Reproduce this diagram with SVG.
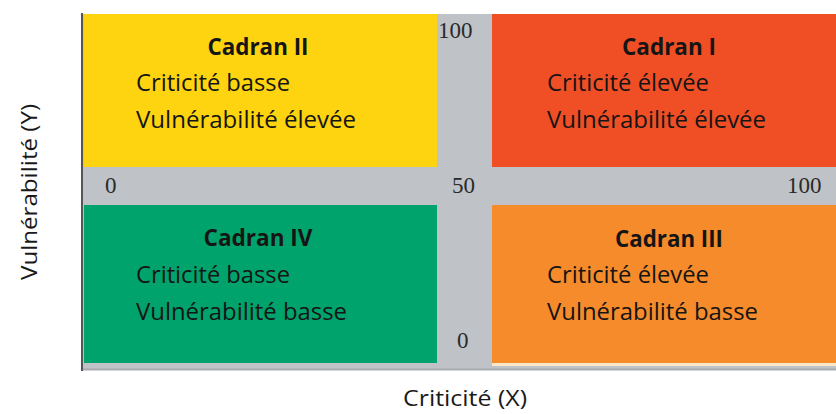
<svg xmlns="http://www.w3.org/2000/svg" width="836" height="414" viewBox="0 0 836 414">
<style>
.t{font-family:"Open Sans","Liberation Sans",sans-serif;font-size:23px;font-weight:500;fill:#151515}
.h{font-family:"Open Sans","Liberation Sans",sans-serif;font-size:23px;font-weight:bold;fill:#151515;text-anchor:middle}
.n{font-family:"Liberation Serif","Times New Roman",serif;font-size:23px;fill:#2a2a2a}
.ax{font-family:"Open Sans","Liberation Sans",sans-serif;font-size:22px;font-weight:500;fill:#1a1a1a}
</style>
<rect x="0" y="0" width="836" height="414" fill="#ffffff"/>
<g id="grid">
<rect x="83" y="14" width="753" height="355" fill="#bfc2c6"/>
<line x1="83" y1="369.5" x2="836" y2="369.5" stroke="#a9abae" stroke-width="2"/>
<line x1="82" y1="13" x2="82" y2="371" stroke="#555555" stroke-width="2"/>
</g>
<g id="cadran2">
<rect x="84" y="14" width="353" height="153" fill="#fdd40f"/>
<text class="h" x="258" y="55" textLength="101" lengthAdjust="spacingAndGlyphs">Cadran II</text>
<text class="t" x="136" y="91" textLength="154" lengthAdjust="spacingAndGlyphs">Criticité basse</text>
<text class="t" x="136" y="128" textLength="220" lengthAdjust="spacingAndGlyphs">Vulnérabilité élevée</text>
</g>
<g id="cadran1">
<rect x="492" y="14" width="344" height="153" fill="#f04e25"/>
<text class="h" x="669" y="55" textLength="94" lengthAdjust="spacingAndGlyphs">Cadran I</text>
<text class="t" x="547" y="91" textLength="162" lengthAdjust="spacingAndGlyphs">Criticité élevée</text>
<text class="t" x="547" y="128" textLength="219" lengthAdjust="spacingAndGlyphs">Vulnérabilité élevée</text>
</g>
<g id="cadran4">
<rect x="84" y="205" width="353" height="158" fill="#00a36b"/>
<text class="h" x="258" y="246" textLength="109" lengthAdjust="spacingAndGlyphs">Cadran IV</text>
<text class="t" x="136" y="283" textLength="154" lengthAdjust="spacingAndGlyphs">Criticité basse</text>
<text class="t" x="136" y="320" textLength="211" lengthAdjust="spacingAndGlyphs">Vulnérabilité basse</text>
</g>
<g id="cadran3">
<rect x="492" y="205" width="344" height="158" fill="#f68b2c"/>
<rect x="492" y="363" width="344" height="3" fill="#fbe6c8"/>
<text class="h" x="669" y="247" textLength="108" lengthAdjust="spacingAndGlyphs">Cadran III</text>
<text class="t" x="547" y="283" textLength="162" lengthAdjust="spacingAndGlyphs">Criticité élevée</text>
<text class="t" x="547" y="320" textLength="211" lengthAdjust="spacingAndGlyphs">Vulnérabilité basse</text>
</g>
<g id="scale">
<text class="n" x="438" y="38">100</text>
<text class="n" x="105" y="193">0</text>
<text class="n" x="452" y="193">50</text>
<text class="n" x="787" y="193">100</text>
<text class="n" x="457" y="348">0</text>
</g>
<g id="axes">
<text class="ax" x="465" y="406" text-anchor="middle" textLength="124" lengthAdjust="spacingAndGlyphs">Criticité (X)</text>
<text class="ax" transform="translate(37,192) rotate(-90)" text-anchor="middle" textLength="176" lengthAdjust="spacingAndGlyphs">Vulnérabilité (Y)</text>
</g>
</svg>
